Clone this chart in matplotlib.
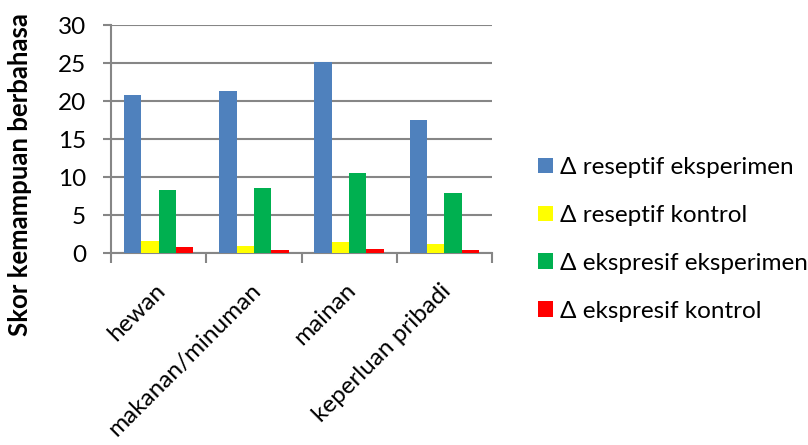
import numpy as np
import matplotlib
matplotlib.use('Agg')
import matplotlib.pyplot as plt
import matplotlib.transforms as mtransforms
from matplotlib.patches import Patch

plt.rcParams['font.family'] = ['Lato', 'DejaVu Sans']

categories = ['hewan', 'makanan/minuman', 'mainan', 'keperluan pribadi']
series = ['Δ reseptif eksperimen', 'Δ reseptif kontrol',
          'Δ ekspresif eksperimen', 'Δ ekspresif kontrol']
reseptif_eksperimen = [20.8, 21.3, 25.2, 17.5]
reseptif_kontrol = [1.6, 1.0, 1.5, 1.2]
ekspresif_eksperimen = [8.3, 8.6, 10.6, 7.9]
ekspresif_kontrol = [0.8, 0.4, 0.55, 0.4]
colors = ['#4F81BD', '#FFFF00', '#00B050', '#FF0000']
grey = '#868686'

values = [reseptif_eksperimen, reseptif_kontrol, ekspresif_eksperimen, ekspresif_kontrol]

fig = plt.figure(figsize=(8.08, 4.45), dpi=100)
ax = fig.add_axes([0.1374, 0.4308, 0.6089 - 0.1374, 0.9438 - 0.4308])

x = np.arange(len(categories))
w = 1 / 5.5
for j, (vals, c) in enumerate(zip(values, colors)):
    ax.bar(x + (j - 1.5) * w, vals, width=w, color=c, edgecolor='none', zorder=3)

ax.set_xlim(-0.5, len(categories) - 0.5)
ax.set_ylim(0, 30)
ax.set_yticks(np.arange(0, 31, 5))
ax.yaxis.grid(True, color=grey, linewidth=1.5, zorder=0)
for s in ['top', 'right']:
    ax.spines[s].set_visible(False)
for s in ['left', 'bottom']:
    ax.spines[s].set_color(grey)
    ax.spines[s].set_linewidth(1.5)
ax.tick_params(axis='y', colors=grey, length=6, width=1.5, labelcolor='black',
               labelsize=17.5, pad=12)

ax.set_xticks(np.arange(-0.5, len(categories)), minor=False)
ax.set_xticklabels([])
ax.tick_params(axis='x', which='major', colors=grey, length=7, width=1.5)
ax.set_xticks(x, minor=True)
ax.set_xticklabels(categories, minor=True, rotation=45, ha='right',
                   rotation_mode='anchor', fontsize=17.5)
ax.tick_params(axis='x', which='minor', length=0, pad=19)
# nudge rotated labels a little to the left
shift = mtransforms.ScaledTranslation(-4 / 100, 0, fig.dpi_scale_trans)
for lbl in ax.get_xticklabels(minor=True):
    lbl.set_transform(lbl.get_transform() + shift)

ax.set_ylabel('Skor kemampuan berbahasa', fontsize=18.5, fontweight='bold')
ax.yaxis.set_label_coords(-0.207, 0.343)

handles = [Patch(facecolor=c, edgecolor='none') for c in colors]
fig.legend(handles, series, loc='center left', bbox_to_anchor=(0.639, 0.462),
           frameon=False, fontsize=17.5, handlelength=0.6, handleheight=0.6,
           handletextpad=0.3, labelspacing=1.1)

fig.savefig('out.png', dpi=100)
